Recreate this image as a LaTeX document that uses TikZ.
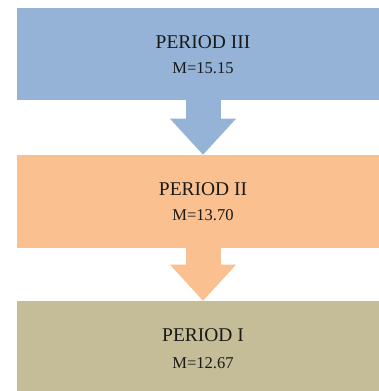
\documentclass[tikz,border=0pt]{standalone}
\usepackage{fontspec}
\setmainfont{Liberation Serif}
\usetikzlibrary{arrows.meta}
\definecolor{periodthree}{HTML}{95B3D7}
\definecolor{periodtwo}{HTML}{FAC090}
\definecolor{periodone}{HTML}{C4BD97}
\tikzset{
  periodbox/.style={rectangle, inner sep=0pt, minimum width=279pt, minimum height=#1},
  periodname/.style={anchor=base, font=\fontsize{14.6}{17}\selectfont, text=black!90},
  periodmean/.style={anchor=base, font=\fontsize{12.4}{15}\selectfont, text=black!90},
  downarrow/.style={line width=26.25pt, -{Triangle[width=49.5pt, length=27pt, line width=0pt]}}
}
\begin{document}
\begin{tikzpicture}[x=0.75pt, y=-0.75pt]
	\useasboundingbox (0,0) rectangle (378,391);

	\node [periodbox=69pt, fill=periodthree] (p3) at (203, 54) {};
	\node [periodbox=69.75pt, fill=periodtwo] (p2) at (203, 201.5) {};
	\node [periodbox=69pt, fill=periodone] (p1) at (203, 347) {};

	\node [periodname] (p3name) at (203, 48.3) {PERIOD III};
	\node [periodmean] (p3mean) at (203, 73.3) {M=15.15};
	\node [periodname] (p2name) at (203, 195.3) {PERIOD II};
	\node [periodmean] (p2mean) at (203, 220.3) {M=13.70};
	\node [periodname] (p1name) at (203, 341.5) {PERIOD I};
	\node [periodmean] (p1mean) at (203, 368) {M=12.67};

	\draw [downarrow, periodthree] (p3.south) -- (p2.north);
	\draw [downarrow, periodtwo] (p2.south) -- (p1.north);
\end{tikzpicture}
\end{document}
